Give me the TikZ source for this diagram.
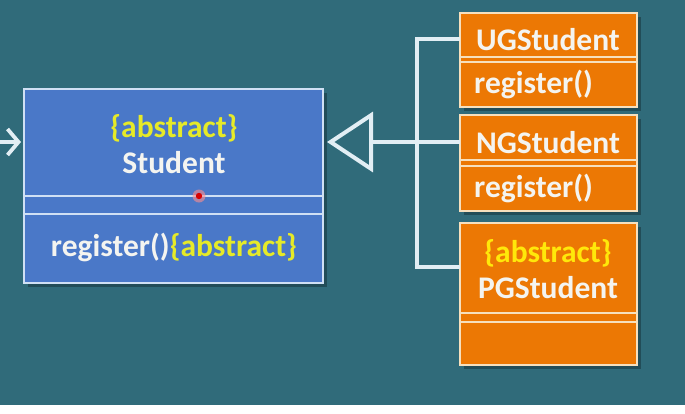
\documentclass[tikz,border=0pt]{standalone}
\usepackage{fontspec}
\setmainfont{Carlito}
\usetikzlibrary{arrows.meta}
\definecolor{bg}{RGB}{48,107,122}
\definecolor{cblue}{RGB}{74,120,200}
\definecolor{cblueline}{RGB}{208,224,244}
\definecolor{corange}{RGB}{236,120,4}
\definecolor{coline}{RGB}{246,224,190}
\definecolor{cyel}{RGB}{230,234,40}
\definecolor{cyelo}{RGB}{255,232,10}
\definecolor{ctext}{RGB}{244,244,240}
\definecolor{cconn}{RGB}{226,238,244}
\pgfdeclarelayer{backlayer}
\pgfsetlayers{backlayer,main}
\begin{document}
\begin{tikzpicture}[x=1pt,y=-1pt,
  bluepart/.style={draw=cblueline, fill=cblue, line width=2.8pt, inner sep=0pt, outer sep=0pt, anchor=north west, minimum width=299pt},
  orpart/.style={draw=coline, fill=corange, line width=2.6pt, inner sep=0pt, outer sep=0pt, anchor=north west, minimum width=177pt},
  txt/.style={font=\bfseries\fontsize{31.5}{36}\selectfont, text=ctext, inner sep=0pt, anchor=base},
  optxt/.style={txt, anchor=base west},
  conn/.style={draw=cconn, line width=4pt},
  shadowbox/.style={fill=black, opacity=0.28}
]
\useasboundingbox (0,0) rectangle (685,413);
\begin{pgfonlayer}{backlayer}
  \fill[bg] (0,0) rectangle (685,404.5);
  \fill[white] (0,404.5) rectangle (685,413);
  \fill[shadowbox] (28,93) rectangle (327,287);
  \fill[shadowbox] (464,17) rectangle (641,111);
  \fill[shadowbox] (464,119) rectangle (641,215);
  \fill[shadowbox] (464,227) rectangle (641,369);
\end{pgfonlayer}

% Student (abstract)
\node[bluepart, minimum height=107pt] (stN) at (24,89) {};
\node[bluepart, minimum height=18pt] (stA) at (24,196) {};
\node[bluepart, minimum height=69pt] (stO) at (24,214) {};
\node[txt, text=cyel] (stAbs) at (174,137) {\{abstract\}};
\node[txt] (stName) at (174,173) {Student};
\node[txt] (stOp) at (174,256) {register()\textcolor{cyel}{\{abstract\}}};

% UGStudent
\node[orpart, minimum height=44pt] (ugN) at (460,13) {};
\node[orpart, minimum height=5pt] (ugA) at (460,57) {};
\node[orpart, minimum height=45pt] (ugO) at (460,62) {};
\node[txt] (ugName) at (548,50) {UGStudent};
\node[optxt] (ugOp) at (474,93) {register()};

% NGStudent
\node[orpart, minimum height=45pt] (ngN) at (460,115) {};
\node[orpart, minimum height=6pt] (ngA) at (460,160) {};
\node[orpart, minimum height=45pt] (ngO) at (460,166) {};
\node[txt] (ngName) at (548,153) {NGStudent};
\node[optxt] (ngOp) at (474,197) {register()};

% PGStudent (abstract)
\node[orpart, minimum height=90pt] (pgN) at (460,223) {};
\node[orpart, minimum height=9pt] (pgA) at (460,313) {};
\node[orpart, minimum height=43pt] (pgO) at (460,322) {};
\node[txt, text=cyelo] (pgAbs) at (548,262) {\{abstract\}};
\node[txt] (pgName) at (548,298) {PGStudent};

% connectors
\coordinate (bus) at (417,0);
\coordinate (ugy) at (0,39);
\coordinate (ngy) at (0,142);
\coordinate (pgy) at (0,267);
\coordinate (lin) at (-3,142);
\draw[conn, line join=miter] (ugN.west |- ugy) -| (bus |- pgy) -- (pgN.west |- pgy);
\draw[conn, -{Triangle[open, length=46pt, width=60pt]}] (ngN.west |- ngy) -- ([xshift=4pt]stN.east |- ngy);
\draw[conn, line width=3.8pt, -{Straight Barb[length=11pt, width=26pt]}] (lin) -- ([xshift=-3pt]stN.west |- lin);

% pointer dot
\fill[red!45!white, opacity=0.6] (199,196) circle (6.5pt);
\fill[red!85!black] (199,196) circle (3.2pt);
\end{tikzpicture}
\end{document}
